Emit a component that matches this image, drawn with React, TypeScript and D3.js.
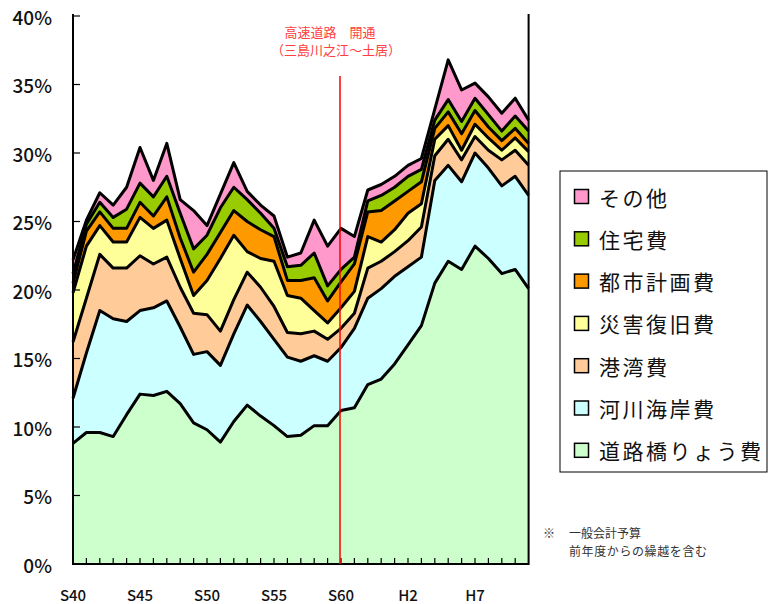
import React from 'react';
import * as d3 from 'd3';

// fiscal years S40 (1965) .. H11 (1999)
const years = [
  1965, 1966, 1967, 1968, 1969, 1970, 1971, 1972, 1973, 1974,
  1975, 1976, 1977, 1978, 1979, 1980, 1981, 1982, 1983, 1984,
  1985, 1986, 1987, 1988, 1989, 1990, 1991, 1992, 1993, 1994,
  1995, 1996, 1997, 1998, 1999,
];

// share of general account budget (%), bottom to top
const road = [8.8, 9.6, 9.6, 9.3, 10.9, 12.4, 12.3, 12.6, 11.7, 10.3, 9.8, 8.9, 10.4, 11.6, 10.8, 10.1, 9.3, 9.4, 10.1, 10.1, 11.2, 11.4, 13.1, 13.5, 14.6, 16.0, 17.4, 20.5, 22.1, 21.5, 23.2, 22.3, 21.2, 21.5, 20.1];
const river = [3.3, 5.8, 8.9, 8.6, 6.8, 6.1, 6.4, 6.6, 5.6, 5.0, 5.7, 5.6, 6.4, 7.3, 6.9, 6.3, 5.8, 5.4, 5.1, 4.7, 4.6, 5.8, 6.3, 6.6, 6.4, 5.7, 5.0, 7.5, 7.0, 6.4, 6.8, 6.6, 6.4, 6.8, 6.8];
const port = [4.1, 4.0, 4.1, 3.7, 3.9, 4.0, 3.2, 3.2, 2.9, 3.0, 2.7, 2.5, 2.5, 2.4, 2.5, 2.4, 1.8, 2.0, 1.8, 1.6, 1.4, 1.1, 2.2, 2.0, 1.8, 1.9, 2.2, 1.8, 1.9, 1.6, 1.2, 1.3, 1.9, 1.9, 2.2];
const disaster = [3.6, 3.8, 2.1, 1.9, 1.9, 2.8, 2.6, 2.7, 2.1, 1.3, 2.5, 5.3, 4.7, 1.5, 2.1, 3.3, 2.7, 2.6, 1.5, 1.2, 1.5, 1.6, 2.3, 1.4, 1.6, 2.0, 1.7, 1.2, 1.0, 0.7, 0.9, 0.9, 0.7, 0.9, 1.0];
const urban = [0.7, 1.1, 1.0, 1.0, 1.0, 1.1, 0.9, 1.7, 1.5, 1.7, 1.9, 1.9, 1.8, 2.2, 2.1, 1.8, 1.1, 1.3, 2.4, 1.6, 1.9, 2.0, 1.8, 2.3, 2.1, 1.6, 1.6, 0.8, 1.0, 1.2, 1.0, 0.8, 0.7, 0.7, 0.6];
const housing = [0.7, 0.5, 0.7, 0.8, 1.4, 1.4, 1.4, 1.5, 1.8, 1.7, 1.4, 1.8, 1.7, 1.6, 1.2, 0.6, 1.0, 1.1, 1.8, 1.1, 0.9, 0.5, 0.8, 1.1, 1.0, 1.1, 0.9, 0.6, 0.9, 0.9, 0.9, 0.9, 0.7, 0.9, 0.9];
const other = [1.0, 0.3, 0.7, 0.9, 1.6, 2.6, 1.2, 2.4, 1.0, 2.8, 0.7, 1.0, 1.8, 0.6, 0.6, 0.9, 0.7, 0.9, 2.4, 2.9, 3.0, 1.5, 0.8, 0.8, 0.8, 0.8, 0.8, 0.8, 2.9, 2.3, 1.1, 1.3, 1.3, 1.3, 0.8];

const seriesNames = ['道路橋りょう費', '河川海岸費', '港湾費', '災害復旧費', '都市計画費', '住宅費', 'その他'];
const seriesValues = [road, river, port, disaster, urban, housing, other];
const seriesColors = ['#ccffcc', '#ccffff', '#ffcc99', '#ffff99', '#ff9900', '#99cc00', '#ff99cc'];

const yTicks = [0, 5, 10, 15, 20, 25, 30, 35, 40];
const xTickYears = [1965, 1970, 1975, 1980, 1985, 1990, 1995];
const xTickLabels = ['S40', 'S45', 'S50', 'S55', 'S60', 'H2', 'H7'];
const openingYear = 1985;

const width = 775;
const height = 604;
const plot = { left: 73, right: 528.6, top: 16, bottom: 564 };
const jp = '"Noto Sans CJK JP", "Noto Sans", sans-serif';

export default function App() {
  const x = d3.scaleLinear().domain([years[0], years[years.length - 1]]).range([plot.left, plot.right]);
  const y = d3.scaleLinear().domain([0, 40]).range([plot.bottom, plot.top]);

  const rows = years.map((yr, i) => {
    const r: any = { year: yr };
    seriesNames.forEach((k, j) => { r[k] = seriesValues[j][i]; });
    return r;
  });
  const stacked = d3.stack().keys(seriesNames)(rows);

  const area = d3.area<any>()
    .x(d => x(d.data.year))
    .y0(d => y(d[0]))
    .y1(d => y(d[1]));
  const topLine = d3.line<any>()
    .x(d => x(d.data.year))
    .y(d => y(d[1]));

  const legendRows = seriesNames.slice().reverse();
  const legendColors = seriesColors.slice().reverse();

  return (
    <svg width={width} height={height} style={{ position: 'absolute', left: 0, top: 0, background: '#fff' }}>
      <g>
        {stacked.map((s, i) => (
          <path key={s.key} d={area(s) || ''} fill={seriesColors[i]} stroke="none" />
        ))}
        {stacked.map(s => (
          <path key={s.key + '-l'} d={topLine(s) || ''} fill="none" stroke="#000" strokeWidth={3} strokeLinejoin="round" />
        ))}
      </g>

      {/* axes */}
      <g stroke="#000">
        <line x1={plot.left} x2={plot.left} y1={14} y2={plot.bottom + 1} strokeWidth={2} />
        <line x1={plot.right} x2={plot.right} y1={14} y2={plot.bottom + 1} strokeWidth={2} />
        <line x1={plot.left} x2={plot.right} y1={plot.bottom} y2={plot.bottom} strokeWidth={2} />
        {yTicks.map(t => (
          <line key={'yt' + t} x1={plot.left} x2={plot.left + 7} y1={y(t)} y2={y(t)} strokeWidth={1.2} />
        ))}
        {years.slice(1, -1).map(yr => (
          <line key={'xt' + yr} x1={x(yr)} x2={x(yr)} y1={plot.bottom} y2={plot.bottom - 6} strokeWidth={1.2} />
        ))}
      </g>
      <g fontFamily={jp} fontSize={19} fontWeight={500} fill="#111" textAnchor="end">
        {yTicks.map(t => (
          <text key={'yl' + t} x={52} y={y(t)} dominantBaseline="central">{t}%</text>
        ))}
      </g>
      <g fontFamily={jp} fontSize={15} fontWeight={500} fill="#111" textAnchor="middle">
        {xTickYears.map((yr, i) => (
          <text key={'xl' + yr} x={x(yr)} y={594.5} dominantBaseline="central">{xTickLabels[i]}</text>
        ))}
      </g>

      {/* expressway opening */}
      <line x1={x(openingYear) - 1} x2={x(openingYear) - 1} y1={76} y2={plot.bottom} stroke="#ff0000" strokeWidth={1.5} />
      <g fontFamily={jp} fontSize={13} fill="#ff4040" textAnchor="middle">
        <text x={330} y={31} dominantBaseline="central">高速道路　開通</text>
        <text x={336} y={49} dominantBaseline="central">（三島川之江～土居）</text>
      </g>

      {/* legend */}
      <rect x={560} y={171} width={207} height={301} fill="#fff" stroke="#000" strokeWidth={1} />
      {legendRows.map((name, i) => {
        const cy = 196.5 + i * 42.3;
        return (
          <g key={'lg' + name}>
            <rect x={574.5} y={cy - 7} width={14} height={14} fill={legendColors[i]} stroke="#000" strokeWidth={1.5} />
            <text x={599} y={cy} dominantBaseline="central" fontFamily={jp} fontSize={21} letterSpacing={2.5} fill="#111">{name}</text>
          </g>
        );
      })}

      <g fontFamily={jp} fontSize={12} fill="#333">
        <text x={543} y={532} dominantBaseline="central">※</text>
        <text x={569} y={532} dominantBaseline="central">一般会計予算</text>
        <text x={569} y={550} dominantBaseline="central" letterSpacing={0.6}>前年度からの繰越を含む</text>
      </g>
    </svg>
  );
}
